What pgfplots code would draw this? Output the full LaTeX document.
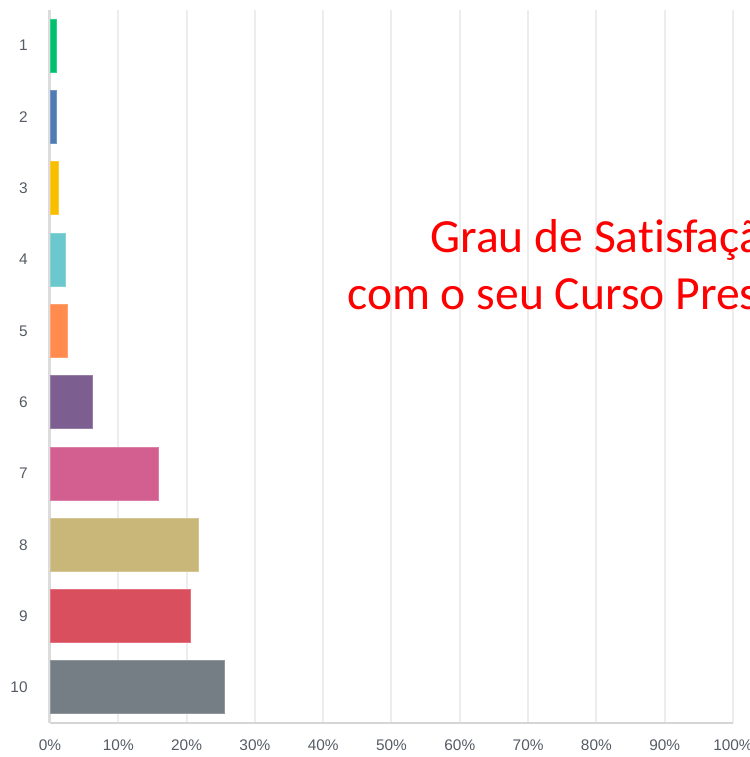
\documentclass[border=0pt]{standalone}
\usepackage{pgfplots}
\pgfplotsset{compat=1.18}
\usepackage{fontspec}
\setmainfont{Liberation Sans}
\newfontfamily\calibri[Ligatures=NoCommon]{Carlito}
\definecolor{c1}{HTML}{00BF6F}
\definecolor{c2}{HTML}{507CB6}
\definecolor{c3}{HTML}{F9BE00}
\definecolor{c4}{HTML}{6BC8CD}
\definecolor{c5}{HTML}{FF8B4F}
\definecolor{c6}{HTML}{7D5E90}
\definecolor{c7}{HTML}{D25F90}
\definecolor{c8}{HTML}{C9B77A}
\definecolor{c9}{HTML}{DA4F5E}
\definecolor{c10}{HTML}{757D85}
\definecolor{gridgrey}{HTML}{EDEDED}
\definecolor{leftgrey}{HTML}{DCDCDC}
\definecolor{botgrey}{HTML}{D5D5D5}
\definecolor{labgrey}{HTML}{555B64}
\begin{document}
\begin{tikzpicture}
\path[use as bounding box] (-25pt,-17pt) rectangle (350pt,361.5pt);
\clip (-25pt,-17pt) rectangle (350pt,361.5pt);
\begin{axis}[
  scale only axis, width=341.5pt, height=356.5pt,
  xbar, bar width=26.5pt, bar shift=0pt,
  xmin=0, xmax=100, ymin=0.5, ymax=10.5,
  xtick={0,10,...,100}, ytick={1,...,10},
  yticklabels={10,9,8,7,6,5,4,3,2,1},
  xticklabel={\pgfmathprintnumber{\tick}\%},
  /pgf/number format/assume math mode=true,
  xmajorgrids, major grid style={color=gridgrey, line width=1pt},
  axis x line*=bottom, axis y line*=left,
  x axis line style={color=botgrey, line width=0.8pt},
  y axis line style={color=leftgrey, line width=1.5pt},
  major tick length=0pt,
  tick label style={font=\fontsize{7.7pt}{9.2pt}\selectfont, text=labgrey, inner sep=0pt},
  xticklabel style={anchor=north, yshift=-8pt},
  yticklabel style={anchor=east, xshift=-11pt},
  every axis plot/.append style={line width=0.4pt},
]
\addplot[fill=c10, draw=c10!80!white] coordinates {(25.5,1)};
\addplot[fill=c9, draw=c9!80!white] coordinates {(20.5,2)};
\addplot[fill=c8, draw=c8!80!white] coordinates {(21.8,3)};
\addplot[fill=c7, draw=c7!80!white] coordinates {(15.8,4)};
\addplot[fill=c6, draw=c6!80!white] coordinates {(6.2,5)};
\addplot[fill=c5, draw=c5!80!white] coordinates {(2.5,6)};
\addplot[fill=c4, draw=c4!80!white] coordinates {(2.3,7)};
\addplot[fill=c3, draw=c3!80!white] coordinates {(1.3,8)};
\addplot[fill=c2, draw=c2!80!white] coordinates {(1.0,9)};
\addplot[fill=c1, draw=c1!80!white] coordinates {(1.0,10)};
\end{axis}
\node[overlay, anchor=base west, inner sep=0pt, text=red, font=\calibri\fontsize{23.8pt}{28pt}\selectfont] at (190pt,235pt) {Grau de Satisfação};
\node[overlay, anchor=base west, inner sep=0pt, text=red, font=\calibri\fontsize{23.8pt}{28pt}\selectfont] at (148.5pt,206.5pt) {com o seu Curso Presencial};
\end{tikzpicture}
\end{document}
